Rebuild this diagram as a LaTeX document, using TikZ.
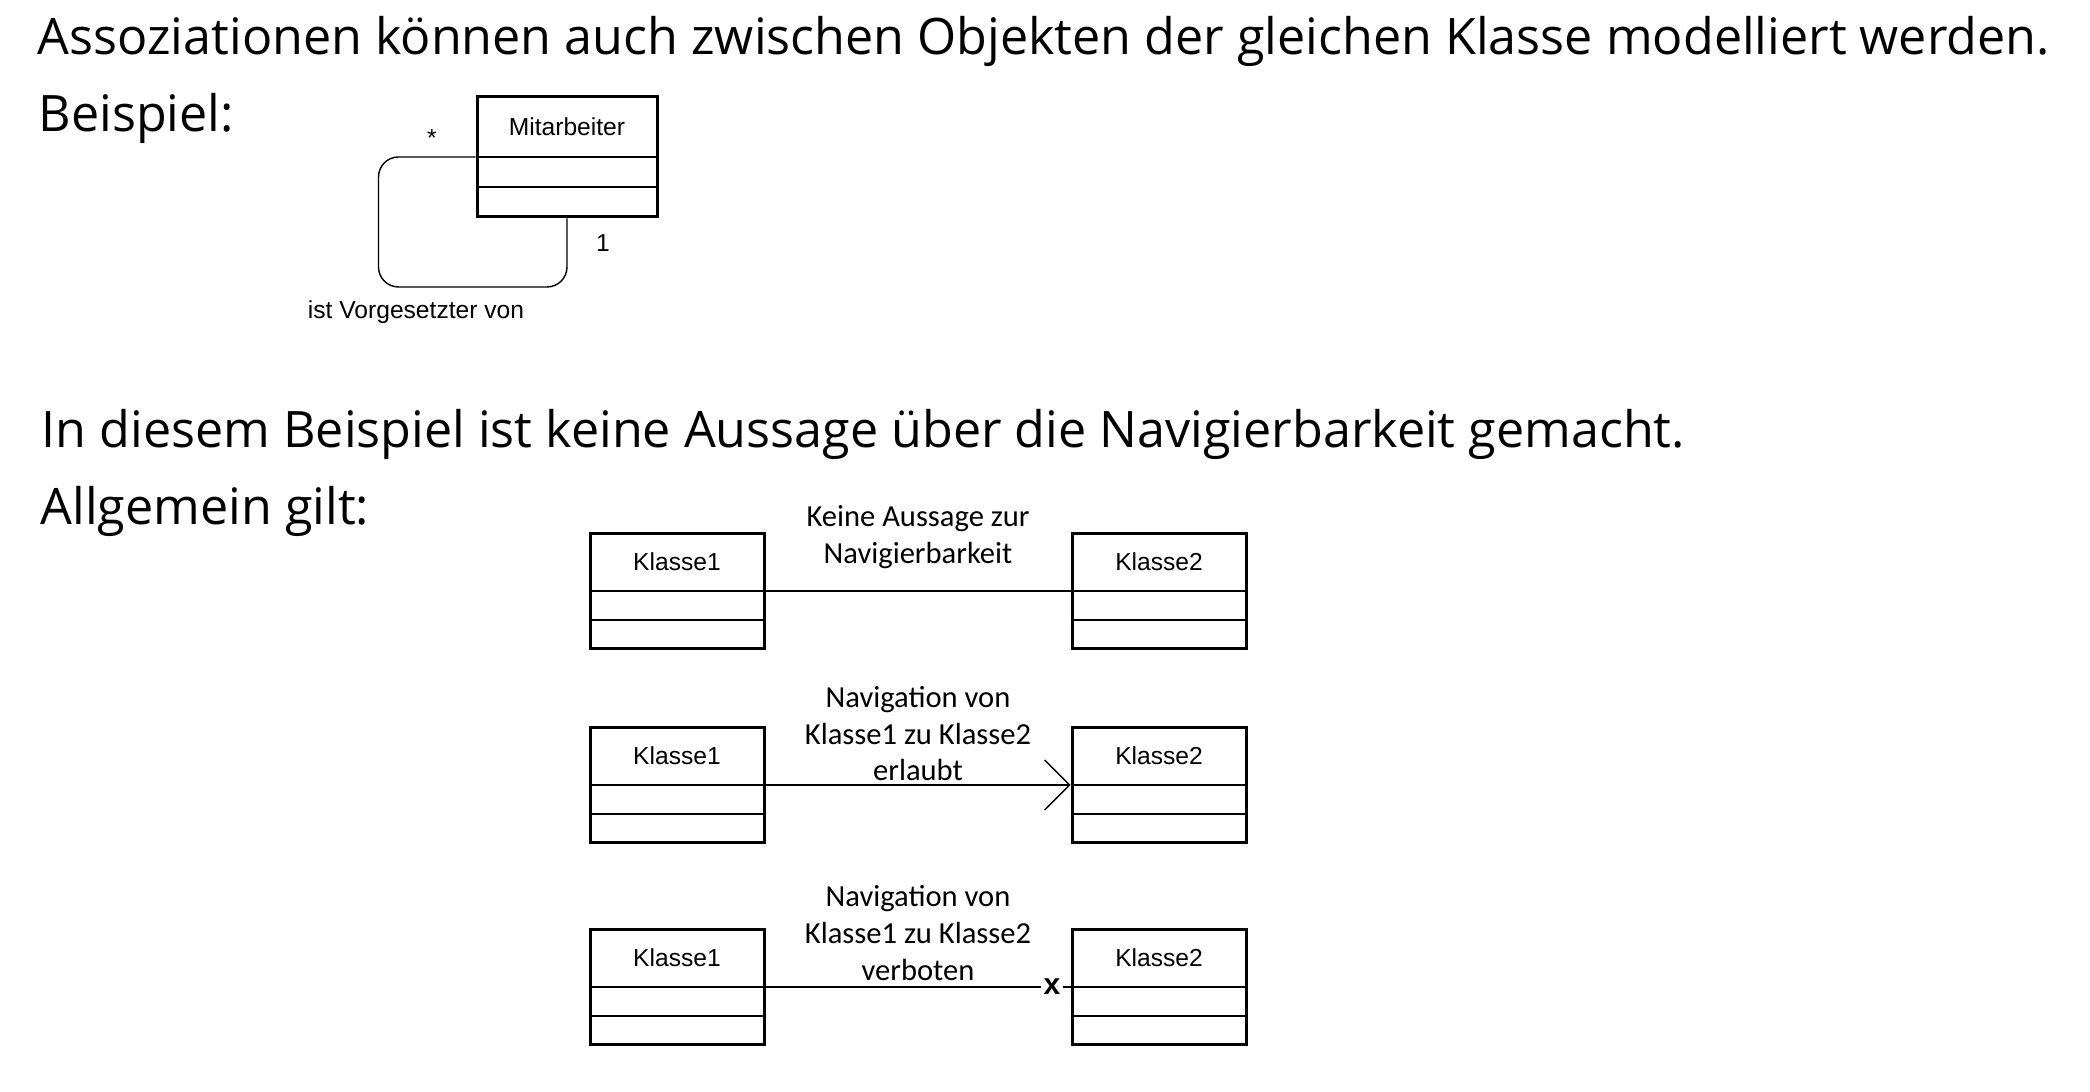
\documentclass[tikz,border=0pt]{standalone}
\usepackage{fontspec}
\setmainfont{Open Sans}
\newfontfamily\umlfont{Liberation Sans}
\newfontfamily\notefont{Carlito}
\usetikzlibrary{arrows.meta}

\begin{document}
\begin{tikzpicture}[
  klasse/.style={draw, line width=0.85pt, minimum width=1.74cm,
    minimum height=1.15cm, inner sep=0pt},
  uml/.style={font=\umlfont\fontsize{7}{8}\selectfont, inner sep=0pt},
  notiz/.style={font=\notefont\fontsize{8.7}{10.4}\selectfont,
    align=center, inner sep=0pt},
  satz/.style={font=\fontsize{14.3}{17}\selectfont, anchor=base west,
    inner sep=0pt}
]
\useasboundingbox (0, 0) rectangle (20.90, 10.92);

\node[satz] (z1) at (0.37, 10.37) {Assoziationen können auch zwischen Objekten der gleichen Klasse modelliert werden.};
\node[satz] (z2) at (0.38, 9.60) {Beispiel:};
\node[satz] (z3) at (0.41, 6.44) {In diesem Beispiel ist keine Aussage über die Navigierbarkeit gemacht.};
\node[satz] (z4) at (0.40, 5.67) {Allgemein gilt:};

\node[klasse, minimum width=1.80cm, minimum height=1.20cm] (ma) at (5.67, 9.35) {};
\node[uml] (ma-name) at (5.67, 9.65) {Mitarbeiter};
\draw[semithick] (ma.west) -- (ma.east)
  ([yshift=-0.3cm]ma.west) -- ([yshift=-0.3cm]ma.east);
\draw[rounded corners=0.2cm] (ma.west) -| ++(-0.97, -1.30) -| (ma.south);
\node[uml] (stern) at (4.32, 9.54) {*};
\node[uml] (eins) at (6.03, 8.49) {1};
\node[uml] (rolle) at (4.16, 7.80) {ist Vorgesetzter von};

\foreach \nr/\y in {1/5.01, 2/3.07, 3/1.05} {
    \node[klasse] (ka\nr) at (6.77, \y) {};
    \node[klasse] (kb\nr) at (11.59, \y) {};
    \node[uml] (ka\nr-name) at ([yshift=0.29cm]ka\nr.center) {Klasse1};
    \node[uml] (kb\nr-name) at ([yshift=0.29cm]kb\nr.center) {Klasse2};
    \draw[semithick] (ka\nr.west) -- (ka\nr.east)
      ([yshift=-0.29cm]ka\nr.west) -- ([yshift=-0.29cm]ka\nr.east);
    \draw[semithick] (kb\nr.west) -- (kb\nr.east)
      ([yshift=-0.29cm]kb\nr.west) -- ([yshift=-0.29cm]kb\nr.east);
}

\node[notiz] (n1) at (9.18, 5.55) {Keine Aussage zur\\Navigierbarkeit};
\node[notiz] (n2) at (9.18, 3.58) {Navigation von\\Klasse1 zu Klasse2\\erlaubt};
\node[notiz] (n3) at (9.18, 1.59) {Navigation von\\Klasse1 zu Klasse2\\verboten};

\draw (ka1.east) -- (kb1.west);
\draw[-{Straight Barb[length=0.25cm, width=0.5cm]}] (ka2.east) -- (kb2.west);
\node[font=\umlfont\bfseries\fontsize{8.5}{9}\selectfont, inner sep=0.5pt] (kreuz) at (10.52, 1.05) {x};
\draw (ka3.east) -- (kreuz) -- (kb3.west);
\end{tikzpicture}
\end{document}
